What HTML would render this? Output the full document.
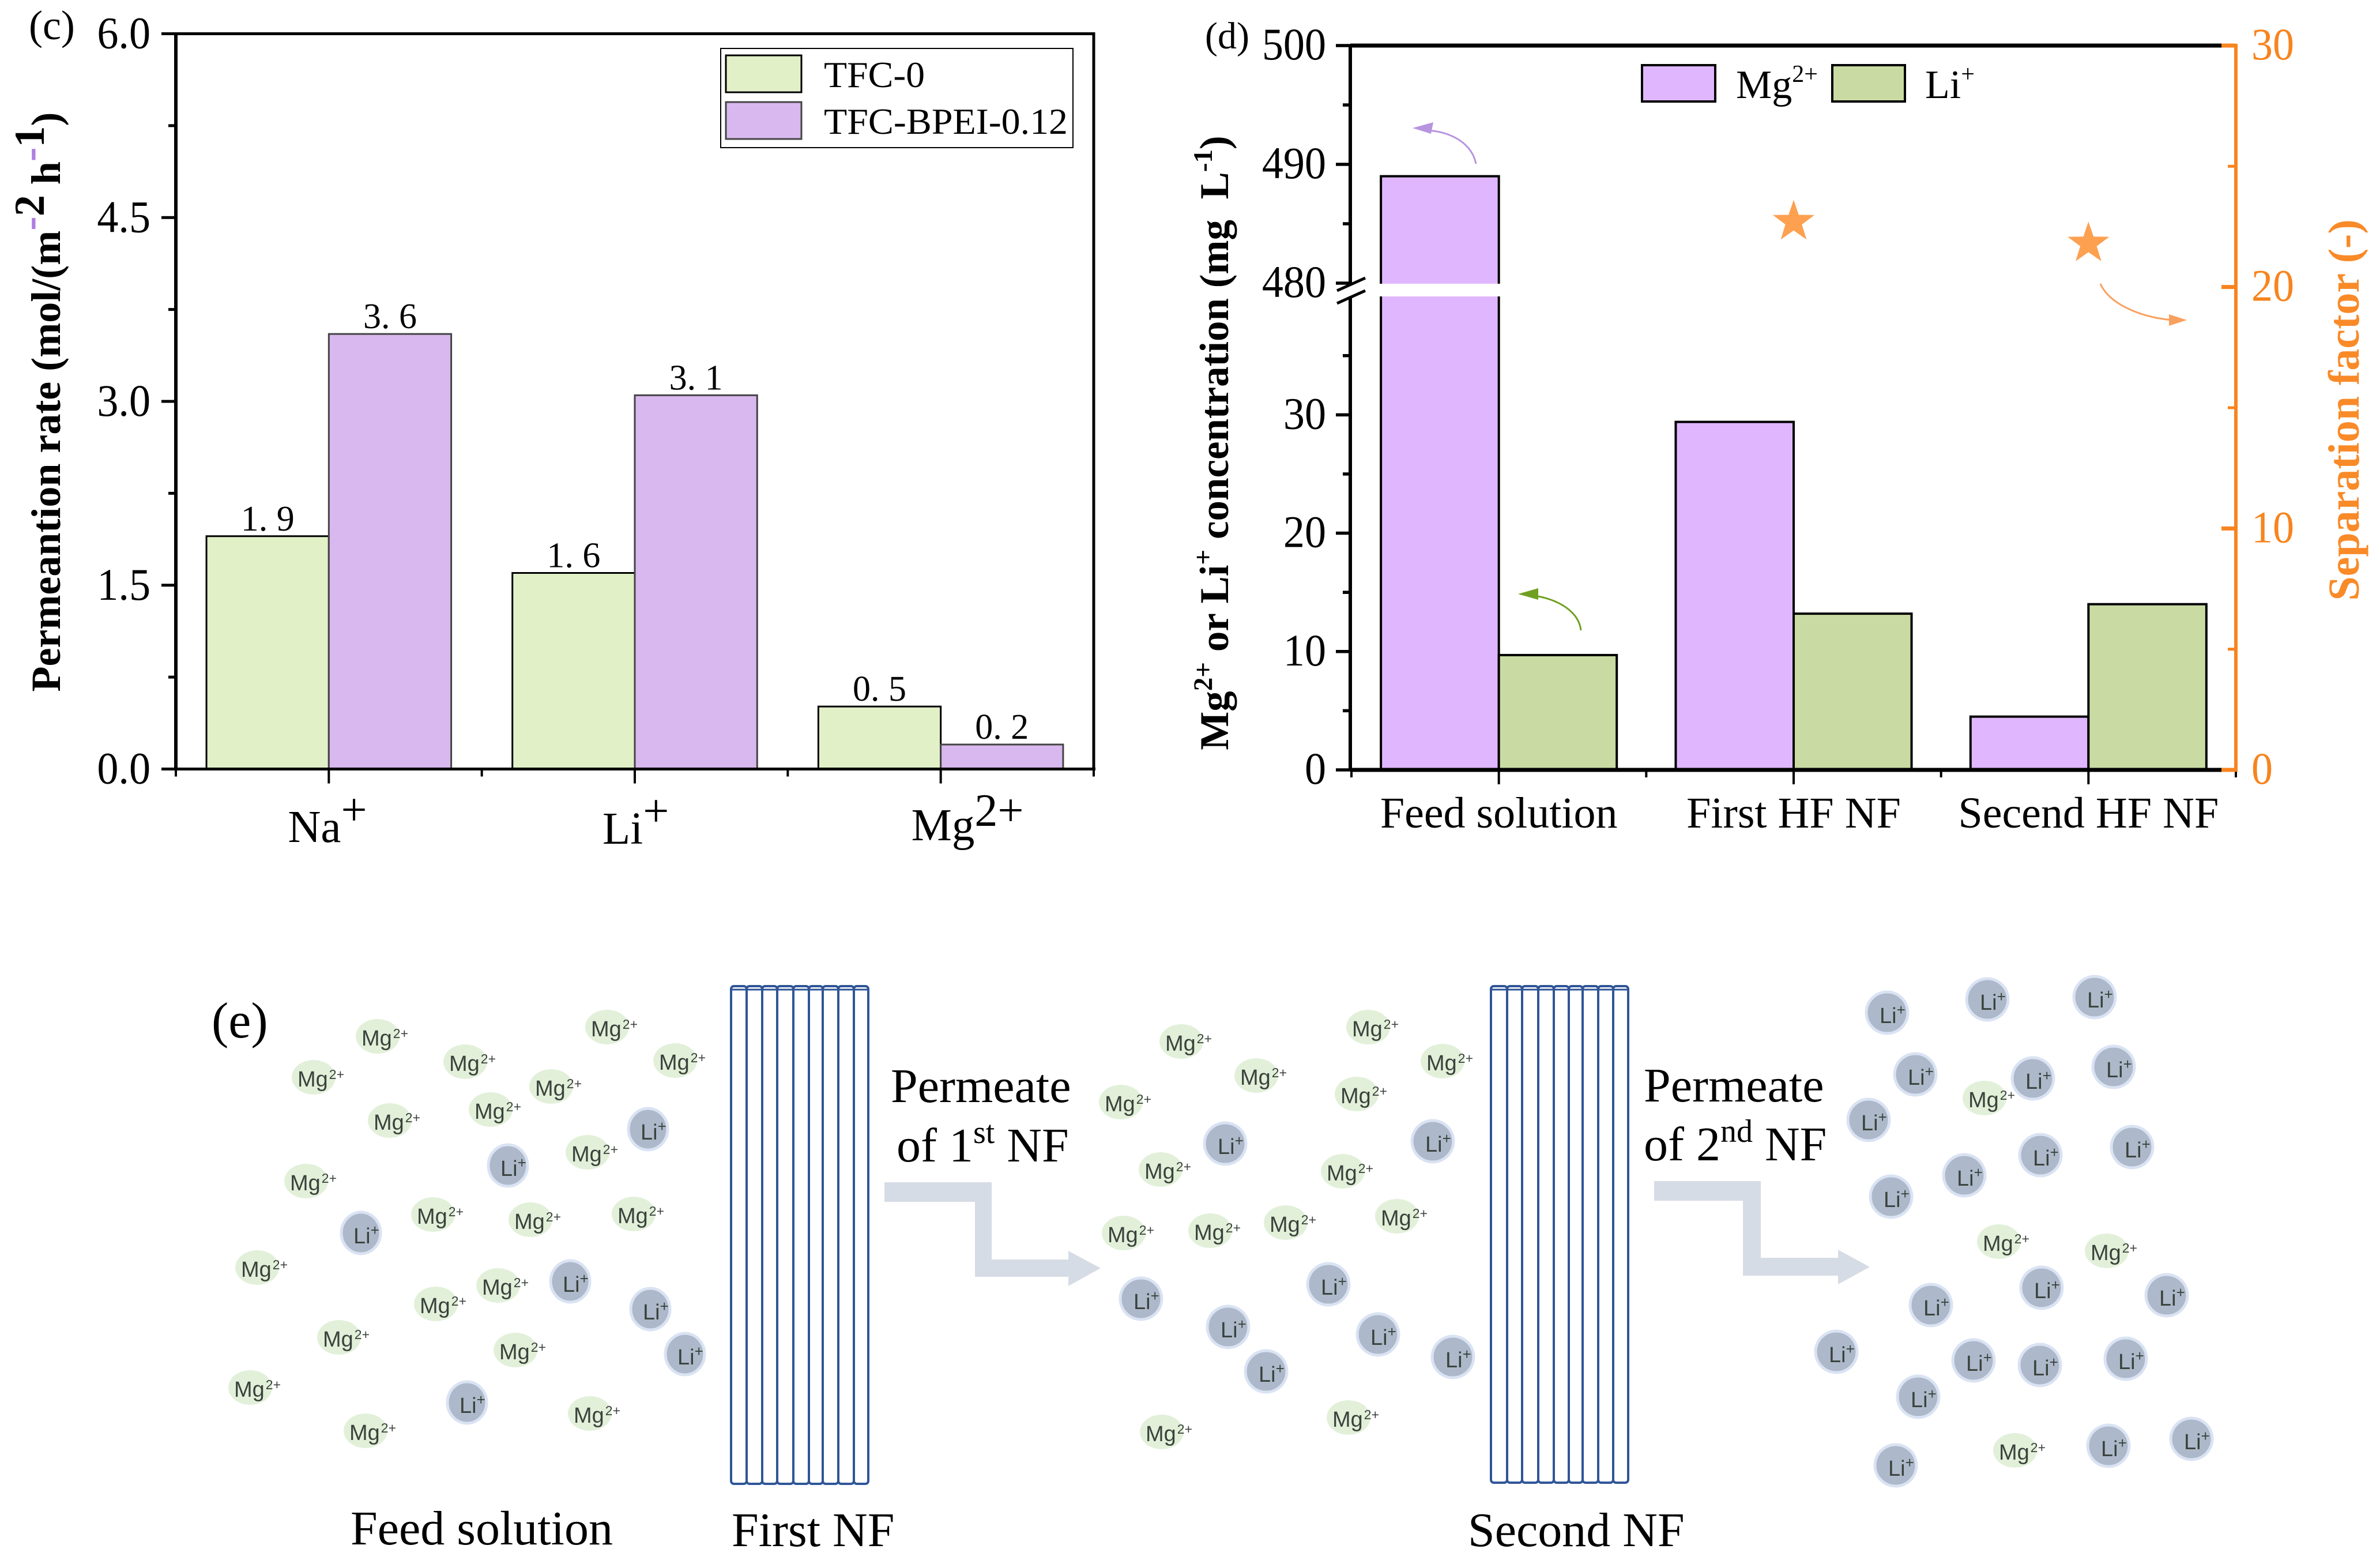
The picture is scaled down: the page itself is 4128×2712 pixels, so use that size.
<!DOCTYPE html>
<html lang="en">
<head>
<meta charset="utf-8">
<title>Permeation and separation charts with nanofiltration schematic</title>
<style>
html,body{margin:0;padding:0;background:#fff;}
svg{display:block;font-family:"Liberation Serif",serif;}
.ion text{font-family:"Liberation Sans",sans-serif;font-size:38px;fill:#3a423c;}
.mg{fill:#e2f0d9;}
.li{fill:#adb9ca;stroke:#dae3f3;stroke-width:5;}
.tube{fill:#fff;stroke:#2f5597;stroke-width:4;}
.cap{fill:none;stroke:#2f5597;stroke-width:3;}
.big{font-size:84px;fill:#000;}
</style>
</head>
<body>
<svg id="figure" xmlns="http://www.w3.org/2000/svg" width="4128" height="2712" viewBox="0 0 4128 2712">
<rect width="4128" height="2712" fill="#fff"/>

<g id="chart-c"></g>
<text x="50" y="68" font-size="72">(c)</text>
<text transform="translate(104 697) rotate(-90)" text-anchor="middle" font-size="72" font-weight="bold">Permeantion rate (mol/(m<tspan dy="-28" font-size="74"><tspan fill="#b07fe0">-</tspan>2</tspan><tspan dy="28"> h</tspan><tspan dy="-28" font-size="74"><tspan fill="#b07fe0">-</tspan>1</tspan><tspan dy="28">)</tspan></text>

<g id="chart-d"></g>
<text x="2090" y="84" font-size="66">(d)</text>
<text transform="translate(2130 768) rotate(-90)" text-anchor="middle" font-size="71" font-weight="bold">Mg<tspan dy="-28" font-size="47">2+</tspan><tspan dy="28"> or Li</tspan><tspan dy="-28" font-size="47">+</tspan><tspan dy="28"> concentration (mg&#160; L</tspan><tspan dy="-28" font-size="47">-1</tspan><tspan dy="28">)</tspan></text>
<text transform="translate(4091 711) rotate(-90)" text-anchor="middle" font-size="76" font-weight="bold" fill="#f98a28">Separation factor (-)</text>

<path d="M2560 284C2552 245 2510 226 2470 226" fill="none" stroke="#b794e0" stroke-width="3"/>
<polygon points="2450,222 2486,212 2482,232" fill="#b794e0"/>
<path d="M2742 1093C2738 1055 2690 1034 2650 1032" fill="none" stroke="#70a020" stroke-width="3"/>
<polygon points="2633,1030 2668,1020 2668,1040" fill="#70a020"/>
<path d="M3643 492C3660 530 3720 552 3770 555" fill="none" stroke="#f9a060" stroke-width="3"/>
<polygon points="3793,555 3762,545 3762,565" fill="#f9a060"/>

<g id="panel-e">
<text x="367" y="1799" font-size="88">(e)</text>

<g>
<rect class="tube" x="1268" y="1710" width="27" height="863" rx="5"/><rect class="tube" x="1295" y="1710" width="27" height="863" rx="5"/><rect class="tube" x="1322" y="1710" width="26" height="863" rx="5"/><rect class="tube" x="1348" y="1710" width="28" height="863" rx="5"/><rect class="tube" x="1376" y="1710" width="27" height="863" rx="5"/><rect class="tube" x="1403" y="1710" width="24" height="863" rx="5"/><rect class="tube" x="1427" y="1710" width="27" height="863" rx="5"/><rect class="tube" x="1454" y="1710" width="27" height="863" rx="5"/><rect class="tube" x="1481" y="1710" width="25" height="863" rx="5"/>
<path class="cap" d="M1268 1716H1506"/>
</g>
<g>
<rect class="tube" x="2586" y="1710" width="28" height="861" rx="5"/><rect class="tube" x="2614" y="1710" width="26" height="861" rx="5"/><rect class="tube" x="2640" y="1710" width="28" height="861" rx="5"/><rect class="tube" x="2668" y="1710" width="27" height="861" rx="5"/><rect class="tube" x="2695" y="1710" width="26" height="861" rx="5"/><rect class="tube" x="2721" y="1710" width="24" height="861" rx="5"/><rect class="tube" x="2745" y="1710" width="27" height="861" rx="5"/><rect class="tube" x="2772" y="1710" width="26" height="861" rx="5"/><rect class="tube" x="2798" y="1710" width="26" height="861" rx="5"/>
<path class="cap" d="M2586 1716H2824"/>
</g>

<polygon points="1534,2050 1720,2050 1720,2184 1853,2184 1853,2169 1909,2199 1853,2230 1853,2214 1691,2214 1691,2084 1534,2084" fill="#d6dce5"/>
<polygon points="2869,2048 3054,2048 3054,2181 3188,2181 3188,2167 3243,2197 3188,2227 3188,2212 3023,2212 3023,2082 2869,2082" fill="#d6dce5"/>

<text class="big" x="1545" y="1911">Permeate</text>
<text class="big" x="1555" y="2014">of 1<tspan dy="-32" font-size="56">st</tspan><tspan dy="32"> NF</tspan></text>
<text class="big" x="2851" y="1910">Permeate</text>
<text class="big" x="2851" y="2012">of 2<tspan dy="-32" font-size="56">nd</tspan><tspan dy="32"> NF</tspan></text>
<text class="big" x="608" y="2678">Feed solution</text>
<text class="big" x="1269" y="2681">First NF</text>
<text class="big" x="2546" y="2681">Second NF</text>

<g>
<g class="ion" transform="translate(655 1797)"><ellipse class="mg" rx="38" ry="30"/><text x="-28" y="16">Mg<tspan dx="2" dy="-13" font-size="23">2+</tspan></text></g>
<g class="ion" transform="translate(544 1868)"><ellipse class="mg" rx="38" ry="30"/><text x="-28" y="16">Mg<tspan dx="2" dy="-13" font-size="23">2+</tspan></text></g>
<g class="ion" transform="translate(807 1841)"><ellipse class="mg" rx="38" ry="30"/><text x="-28" y="16">Mg<tspan dx="2" dy="-13" font-size="23">2+</tspan></text></g>
<g class="ion" transform="translate(1053 1781)"><ellipse class="mg" rx="38" ry="30"/><text x="-28" y="16">Mg<tspan dx="2" dy="-13" font-size="23">2+</tspan></text></g>
<g class="ion" transform="translate(1171 1839)"><ellipse class="mg" rx="38" ry="30"/><text x="-28" y="16">Mg<tspan dx="2" dy="-13" font-size="23">2+</tspan></text></g>
<g class="ion" transform="translate(956 1884)"><ellipse class="mg" rx="38" ry="30"/><text x="-28" y="16">Mg<tspan dx="2" dy="-13" font-size="23">2+</tspan></text></g>
<g class="ion" transform="translate(851 1924)"><ellipse class="mg" rx="38" ry="30"/><text x="-28" y="16">Mg<tspan dx="2" dy="-13" font-size="23">2+</tspan></text></g>
<g class="ion" transform="translate(676 1943)"><ellipse class="mg" rx="38" ry="30"/><text x="-28" y="16">Mg<tspan dx="2" dy="-13" font-size="23">2+</tspan></text></g>
<g class="ion" transform="translate(1019 1998)"><ellipse class="mg" rx="38" ry="30"/><text x="-28" y="16">Mg<tspan dx="2" dy="-13" font-size="23">2+</tspan></text></g>
<g class="ion" transform="translate(531 2048)"><ellipse class="mg" rx="38" ry="30"/><text x="-28" y="16">Mg<tspan dx="2" dy="-13" font-size="23">2+</tspan></text></g>
<g class="ion" transform="translate(751 2106)"><ellipse class="mg" rx="38" ry="30"/><text x="-28" y="16">Mg<tspan dx="2" dy="-13" font-size="23">2+</tspan></text></g>
<g class="ion" transform="translate(920 2115)"><ellipse class="mg" rx="38" ry="30"/><text x="-28" y="16">Mg<tspan dx="2" dy="-13" font-size="23">2+</tspan></text></g>
<g class="ion" transform="translate(1099 2105)"><ellipse class="mg" rx="38" ry="30"/><text x="-28" y="16">Mg<tspan dx="2" dy="-13" font-size="23">2+</tspan></text></g>
<g class="ion" transform="translate(446 2198)"><ellipse class="mg" rx="38" ry="30"/><text x="-28" y="16">Mg<tspan dx="2" dy="-13" font-size="23">2+</tspan></text></g>
<g class="ion" transform="translate(864 2229)"><ellipse class="mg" rx="38" ry="30"/><text x="-28" y="16">Mg<tspan dx="2" dy="-13" font-size="23">2+</tspan></text></g>
<g class="ion" transform="translate(756 2261)"><ellipse class="mg" rx="38" ry="30"/><text x="-28" y="16">Mg<tspan dx="2" dy="-13" font-size="23">2+</tspan></text></g>
<g class="ion" transform="translate(588 2319)"><ellipse class="mg" rx="38" ry="30"/><text x="-28" y="16">Mg<tspan dx="2" dy="-13" font-size="23">2+</tspan></text></g>
<g class="ion" transform="translate(894 2341)"><ellipse class="mg" rx="38" ry="30"/><text x="-28" y="16">Mg<tspan dx="2" dy="-13" font-size="23">2+</tspan></text></g>
<g class="ion" transform="translate(434 2406)"><ellipse class="mg" rx="38" ry="30"/><text x="-28" y="16">Mg<tspan dx="2" dy="-13" font-size="23">2+</tspan></text></g>
<g class="ion" transform="translate(1023 2451)"><ellipse class="mg" rx="38" ry="30"/><text x="-28" y="16">Mg<tspan dx="2" dy="-13" font-size="23">2+</tspan></text></g>
<g class="ion" transform="translate(634 2481)"><ellipse class="mg" rx="38" ry="30"/><text x="-28" y="16">Mg<tspan dx="2" dy="-13" font-size="23">2+</tspan></text></g>
<g class="ion" transform="translate(1124 1958)"><ellipse class="li" rx="34" ry="36"/><text x="-13" y="18">Li<tspan dy="-14" font-size="26">+</tspan></text></g>
<g class="ion" transform="translate(881 2021)"><ellipse class="li" rx="34" ry="36"/><text x="-13" y="18">Li<tspan dy="-14" font-size="26">+</tspan></text></g>
<g class="ion" transform="translate(626 2138)"><ellipse class="li" rx="34" ry="36"/><text x="-13" y="18">Li<tspan dy="-14" font-size="26">+</tspan></text></g>
<g class="ion" transform="translate(989 2222)"><ellipse class="li" rx="34" ry="36"/><text x="-13" y="18">Li<tspan dy="-14" font-size="26">+</tspan></text></g>
<g class="ion" transform="translate(1128 2270)"><ellipse class="li" rx="34" ry="36"/><text x="-13" y="18">Li<tspan dy="-14" font-size="26">+</tspan></text></g>
<g class="ion" transform="translate(1188 2348)"><ellipse class="li" rx="34" ry="36"/><text x="-13" y="18">Li<tspan dy="-14" font-size="26">+</tspan></text></g>
<g class="ion" transform="translate(810 2432)"><ellipse class="li" rx="34" ry="36"/><text x="-13" y="18">Li<tspan dy="-14" font-size="26">+</tspan></text></g>
</g>

<g>
<g class="ion" transform="translate(2049 1806)"><ellipse class="mg" rx="38" ry="30"/><text x="-28" y="16">Mg<tspan dx="2" dy="-13" font-size="23">2+</tspan></text></g>
<g class="ion" transform="translate(2179 1865)"><ellipse class="mg" rx="38" ry="30"/><text x="-28" y="16">Mg<tspan dx="2" dy="-13" font-size="23">2+</tspan></text></g>
<g class="ion" transform="translate(2373 1781)"><ellipse class="mg" rx="38" ry="30"/><text x="-28" y="16">Mg<tspan dx="2" dy="-13" font-size="23">2+</tspan></text></g>
<g class="ion" transform="translate(2502 1840)"><ellipse class="mg" rx="38" ry="30"/><text x="-28" y="16">Mg<tspan dx="2" dy="-13" font-size="23">2+</tspan></text></g>
<g class="ion" transform="translate(2353 1897)"><ellipse class="mg" rx="38" ry="30"/><text x="-28" y="16">Mg<tspan dx="2" dy="-13" font-size="23">2+</tspan></text></g>
<g class="ion" transform="translate(1944 1911)"><ellipse class="mg" rx="38" ry="30"/><text x="-28" y="16">Mg<tspan dx="2" dy="-13" font-size="23">2+</tspan></text></g>
<g class="ion" transform="translate(2013 2028)"><ellipse class="mg" rx="38" ry="30"/><text x="-28" y="16">Mg<tspan dx="2" dy="-13" font-size="23">2+</tspan></text></g>
<g class="ion" transform="translate(2329 2031)"><ellipse class="mg" rx="38" ry="30"/><text x="-28" y="16">Mg<tspan dx="2" dy="-13" font-size="23">2+</tspan></text></g>
<g class="ion" transform="translate(1949 2138)"><ellipse class="mg" rx="38" ry="30"/><text x="-28" y="16">Mg<tspan dx="2" dy="-13" font-size="23">2+</tspan></text></g>
<g class="ion" transform="translate(2099 2134)"><ellipse class="mg" rx="38" ry="30"/><text x="-28" y="16">Mg<tspan dx="2" dy="-13" font-size="23">2+</tspan></text></g>
<g class="ion" transform="translate(2230 2120)"><ellipse class="mg" rx="38" ry="30"/><text x="-28" y="16">Mg<tspan dx="2" dy="-13" font-size="23">2+</tspan></text></g>
<g class="ion" transform="translate(2423 2109)"><ellipse class="mg" rx="38" ry="30"/><text x="-28" y="16">Mg<tspan dx="2" dy="-13" font-size="23">2+</tspan></text></g>
<g class="ion" transform="translate(2015 2483)"><ellipse class="mg" rx="38" ry="30"/><text x="-28" y="16">Mg<tspan dx="2" dy="-13" font-size="23">2+</tspan></text></g>
<g class="ion" transform="translate(2339 2458)"><ellipse class="mg" rx="38" ry="30"/><text x="-28" y="16">Mg<tspan dx="2" dy="-13" font-size="23">2+</tspan></text></g>
<g class="ion" transform="translate(2125 1983)"><ellipse class="li" rx="36" ry="36"/><text x="-13" y="18">Li<tspan dy="-14" font-size="26">+</tspan></text></g>
<g class="ion" transform="translate(2485 1979)"><ellipse class="li" rx="36" ry="36"/><text x="-13" y="18">Li<tspan dy="-14" font-size="26">+</tspan></text></g>
<g class="ion" transform="translate(1979 2252)"><ellipse class="li" rx="36" ry="36"/><text x="-13" y="18">Li<tspan dy="-14" font-size="26">+</tspan></text></g>
<g class="ion" transform="translate(2304 2227)"><ellipse class="li" rx="36" ry="36"/><text x="-13" y="18">Li<tspan dy="-14" font-size="26">+</tspan></text></g>
<g class="ion" transform="translate(2130 2301)"><ellipse class="li" rx="36" ry="36"/><text x="-13" y="18">Li<tspan dy="-14" font-size="26">+</tspan></text></g>
<g class="ion" transform="translate(2390 2314)"><ellipse class="li" rx="36" ry="36"/><text x="-13" y="18">Li<tspan dy="-14" font-size="26">+</tspan></text></g>
<g class="ion" transform="translate(2196 2378)"><ellipse class="li" rx="36" ry="36"/><text x="-13" y="18">Li<tspan dy="-14" font-size="26">+</tspan></text></g>
<g class="ion" transform="translate(2520 2353)"><ellipse class="li" rx="36" ry="36"/><text x="-13" y="18">Li<tspan dy="-14" font-size="26">+</tspan></text></g>
</g>

<g>
<g class="ion" transform="translate(3273 1756)"><ellipse class="li" rx="36" ry="36"/><text x="-13" y="18">Li<tspan dy="-14" font-size="26">+</tspan></text></g>
<g class="ion" transform="translate(3447 1733)"><ellipse class="li" rx="36" ry="36"/><text x="-13" y="18">Li<tspan dy="-14" font-size="26">+</tspan></text></g>
<g class="ion" transform="translate(3633 1729)"><ellipse class="li" rx="36" ry="36"/><text x="-13" y="18">Li<tspan dy="-14" font-size="26">+</tspan></text></g>
<g class="ion" transform="translate(3322 1863)"><ellipse class="li" rx="36" ry="36"/><text x="-13" y="18">Li<tspan dy="-14" font-size="26">+</tspan></text></g>
<g class="ion" transform="translate(3526 1870)"><ellipse class="li" rx="36" ry="36"/><text x="-13" y="18">Li<tspan dy="-14" font-size="26">+</tspan></text></g>
<g class="ion" transform="translate(3666 1850)"><ellipse class="li" rx="36" ry="36"/><text x="-13" y="18">Li<tspan dy="-14" font-size="26">+</tspan></text></g>
<g class="ion" transform="translate(3241 1942)"><ellipse class="li" rx="36" ry="36"/><text x="-13" y="18">Li<tspan dy="-14" font-size="26">+</tspan></text></g>
<g class="ion" transform="translate(3539 2003)"><ellipse class="li" rx="36" ry="36"/><text x="-13" y="18">Li<tspan dy="-14" font-size="26">+</tspan></text></g>
<g class="ion" transform="translate(3698 1989)"><ellipse class="li" rx="36" ry="36"/><text x="-13" y="18">Li<tspan dy="-14" font-size="26">+</tspan></text></g>
<g class="ion" transform="translate(3407 2038)"><ellipse class="li" rx="36" ry="36"/><text x="-13" y="18">Li<tspan dy="-14" font-size="26">+</tspan></text></g>
<g class="ion" transform="translate(3280 2075)"><ellipse class="li" rx="36" ry="36"/><text x="-13" y="18">Li<tspan dy="-14" font-size="26">+</tspan></text></g>
<g class="ion" transform="translate(3541 2233)"><ellipse class="li" rx="36" ry="36"/><text x="-13" y="18">Li<tspan dy="-14" font-size="26">+</tspan></text></g>
<g class="ion" transform="translate(3349 2263)"><ellipse class="li" rx="36" ry="36"/><text x="-13" y="18">Li<tspan dy="-14" font-size="26">+</tspan></text></g>
<g class="ion" transform="translate(3758 2246)"><ellipse class="li" rx="36" ry="36"/><text x="-13" y="18">Li<tspan dy="-14" font-size="26">+</tspan></text></g>
<g class="ion" transform="translate(3185 2344)"><ellipse class="li" rx="36" ry="36"/><text x="-13" y="18">Li<tspan dy="-14" font-size="26">+</tspan></text></g>
<g class="ion" transform="translate(3423 2359)"><ellipse class="li" rx="36" ry="36"/><text x="-13" y="18">Li<tspan dy="-14" font-size="26">+</tspan></text></g>
<g class="ion" transform="translate(3538 2367)"><ellipse class="li" rx="36" ry="36"/><text x="-13" y="18">Li<tspan dy="-14" font-size="26">+</tspan></text></g>
<g class="ion" transform="translate(3687 2356)"><ellipse class="li" rx="36" ry="36"/><text x="-13" y="18">Li<tspan dy="-14" font-size="26">+</tspan></text></g>
<g class="ion" transform="translate(3327 2422)"><ellipse class="li" rx="36" ry="36"/><text x="-13" y="18">Li<tspan dy="-14" font-size="26">+</tspan></text></g>
<g class="ion" transform="translate(3657 2507)"><ellipse class="li" rx="36" ry="36"/><text x="-13" y="18">Li<tspan dy="-14" font-size="26">+</tspan></text></g>
<g class="ion" transform="translate(3801 2495)"><ellipse class="li" rx="36" ry="36"/><text x="-13" y="18">Li<tspan dy="-14" font-size="26">+</tspan></text></g>
<g class="ion" transform="translate(3288 2541)"><ellipse class="li" rx="36" ry="36"/><text x="-13" y="18">Li<tspan dy="-14" font-size="26">+</tspan></text></g>
<g class="ion" transform="translate(3442 1904)"><ellipse class="mg" rx="38" ry="30"/><text x="-28" y="16">Mg<tspan dx="2" dy="-13" font-size="23">2+</tspan></text></g>
<g class="ion" transform="translate(3467 2153)"><ellipse class="mg" rx="38" ry="30"/><text x="-28" y="16">Mg<tspan dx="2" dy="-13" font-size="23">2+</tspan></text></g>
<g class="ion" transform="translate(3654 2169)"><ellipse class="mg" rx="38" ry="30"/><text x="-28" y="16">Mg<tspan dx="2" dy="-13" font-size="23">2+</tspan></text></g>
<g class="ion" transform="translate(3495 2515)"><ellipse class="mg" rx="38" ry="30"/><text x="-28" y="16">Mg<tspan dx="2" dy="-13" font-size="23">2+</tspan></text></g>
</g>
</g>
</svg>

<script>
/* ---------- chart (c) data ---------- */
const cCategories = ['Na', 'Li', 'Mg'];
const cCategorySups = ['+', '+', '2+'];
const cSeriesNames = ['TFC-0', 'TFC-BPEI-0.12'];
const cTfc0 = [1.9, 1.6, 0.51];
const cBpei = [3.55, 3.05, 0.2];
const cTfc0Labels = ['1. 9', '1. 6', '0. 5'];
const cBpeiLabels = ['3. 6', '3. 1', '0. 2'];
const cMajorTicks = [0, 1.5, 3, 4.5, 6];
const cTickLabels = ['0.0', '1.5', '3.0', '4.5', '6.0'];
const cMinorTicks = [0.75, 2.25, 3.75, 5.25];

/* ---------- chart (d) data ---------- */
const dCategories = ['Feed solution', 'First HF NF', 'Secend HF NF'];
const dMg = [489, 29.4, 4.5];
const dLi = [9.7, 13.2, 14];
const dSeparation = [null, 22.7, 21.8];
const dMajorTicks = [0, 10, 20, 30, 480, 490, 500];
const dMinorTicks = [5, 15, 25, 35, 485, 495];
const dRightMajor = [0, 10, 20, 30];
const dRightMinor = [5, 15, 25];

const NS = 'http://www.w3.org/2000/svg';
function mk(tag, attrs, parent, txt) {
  const e = document.createElementNS(NS, tag);
  for (const k in attrs) e.setAttribute(k, attrs[k]);
  if (txt !== undefined) e.textContent = txt;
  parent.appendChild(e);
  return e;
}
/* condensed width for numeric tick labels, which the figure squeezes slightly */
function tickWidth(label, size) {
  let w = 0;
  for (const ch of label) w += ch === '.' ? 0.25 : 0.5;
  return w * size * 0.95;
}

/* ---------- draw chart (c) ---------- */
(function () {
  const g = document.getElementById('chart-c');
  const L = 305, R = 1897, T = 58.5, B = 1333.5;
  const xC = c => L + (c + 0.5) * (R - L) / 3;
  const yC = v => B - v * (B - T) / 6;
  const barW = 0.4 * (R - L) / 3;
  const fills = ['#e2f0c8', '#d8b8ee'];
  const strokes = ['#000', '#444'];
  const series = [cTfc0, cBpei];
  const labels = [cTfc0Labels, cBpeiLabels];
  const labelDx = [-71, -56, -51];
  const labelBase = [1460, 1463, 1457];
  const supDy = [-29, -30, -25];

  series.forEach((vals, s) => {
    vals.forEach((v, i) => {
      const x = xC(i) + (s === 0 ? -barW : 0);
      const bar = mk('rect', { x: x, y: yC(v), width: barW, height: B - yC(v), fill: fills[s], stroke: strokes[s], 'stroke-width': 3 }, g);
      
      
      const t = mk('text', { x: x + barW / 2, y: yC(v) - 10, 'font-size': 62, 'text-anchor': 'middle' }, g, labels[s][i]);
      
      
    });
  });

  const frame = mk('path', { d: 'M' + L + ' ' + T + 'H' + R + 'V' + B, fill: 'none', stroke: '#000', 'stroke-width': 5 }, g);
  
  
  const left = mk('line', { x1: L, x2: L, y1: T, y2: B, stroke: '#000', 'stroke-width': 6 }, g);
  
  
  const base = mk('line', { x1: L - 3, x2: R + 3, y1: B, y2: B, stroke: '#000', 'stroke-width': 5 }, g);
  
  

  cMajorTicks.forEach((v, i) => {
    const tk = mk('line', { x1: L - 25, x2: L, y1: yC(v), y2: yC(v), stroke: '#000', 'stroke-width': 5 }, g);
    
    
    const t = mk('text', { x: 261, y: yC(v) + 25, 'font-size': 78, 'text-anchor': 'end', textLength: tickWidth(cTickLabels[i], 78), lengthAdjust: 'spacingAndGlyphs' }, g, cTickLabels[i]);
    
    
  });
  cMinorTicks.forEach(v => {
    const tk = mk('line', { x1: L - 13, x2: L, y1: yC(v), y2: yC(v), stroke: '#000', 'stroke-width': 5 }, g);
    
    
  });
  cCategories.forEach((c, i) => {
    const tk = mk('line', { x1: xC(i), x2: xC(i), y1: B, y2: B + 25, stroke: '#000', 'stroke-width': 4 }, g);
    
    
    const t = mk('text', { x: xC(i) + labelDx[i], y: labelBase[i], 'font-size': 79 }, g, c);
    
    
    const s = mk('tspan', { dy: supDy[i], 'font-size': 80 }, t, cCategorySups[i]);
    
    
  });
  [-0.5, 0.5, 1.5, 2.5].forEach(c => {
    const tk = mk('line', { x1: xC(c), x2: xC(c), y1: B, y2: B + 13, stroke: '#000', 'stroke-width': 4 }, g);
    
    
  });

  const box = mk('rect', { x: 1250, y: 84, width: 611, height: 172, fill: '#fff', stroke: '#000', 'stroke-width': 2 }, g);
  
  
  cSeriesNames.forEach((n, s) => {
    const top = s === 0 ? 96 : 177;
    const sw = mk('rect', { x: 1259, y: top, width: 131, height: 64, fill: fills[s], stroke: strokes[s], 'stroke-width': 3 }, g);
    
    
    const t = mk('text', { x: 1429, y: top + 55, 'font-size': 64, textLength: s === 0 ? 175 : 423, lengthAdjust: 'spacingAndGlyphs' }, g, n);
    
    
  });
})();

/* ---------- draw chart (d) ---------- */
(function () {
  const g = document.getElementById('chart-d');
  const L = 2344, R = 3878, T = 79, B = 1335;
  const unit = (B - T) / 61.2;
  const xC = c => L + (c + 0.5) * (R - L) / 3;
  const yD = v => v <= 40 ? B - v * unit : 79 + (500 - v) * (491 - 79) / 20;
  const yR = v => B - v * (B - T) / 30;
  const barW = 0.4 * (R - L) / 3;
  const orange = '#f7841f';
  const breakTop = 492, breakBottom = 514;

  dMg.forEach((v, i) => {
    const bar = mk('rect', { x: xC(i) - barW, y: yD(v), width: barW, height: B - yD(v), fill: '#e0b7ff', stroke: '#000', 'stroke-width': 4 }, g);
    
    
    if (v >= 480) {
      const gap = mk('rect', { x: xC(i) - barW - 4, y: breakTop, width: barW + 8, height: breakBottom - breakTop, fill: '#fff' }, g);
      
      
    }
  });
  dLi.forEach((v, i) => {
    const bar = mk('rect', { x: xC(i), y: yD(v), width: barW, height: B - yD(v), fill: '#c9dba3', stroke: '#000', 'stroke-width': 4 }, g);
    
    
  });

  const top = mk('line', { x1: L - 2, x2: R, y1: T, y2: T, stroke: '#000', 'stroke-width': 7 }, g);
  
  
  const base = mk('line', { x1: L - 2, x2: R, y1: B, y2: B, stroke: '#000', 'stroke-width': 7 }, g);
  
  
  const left = mk('path', { d: 'M' + (L - 2) + ' ' + T + 'V' + breakTop + 'M' + (L - 2) + ' ' + breakBottom + 'V' + B, stroke: '#000', 'stroke-width': 6, fill: 'none' }, g);
  
  
  [breakTop, breakBottom].forEach(y => {
    const s = mk('line', { x1: L - 25, y1: y + 12, x2: L + 24, y2: y - 10, stroke: '#000', 'stroke-width': 5 }, g);
    
    
  });

  dMajorTicks.forEach(v => {
    const tk = mk('line', { x1: L - 27, x2: L - 2, y1: yD(v), y2: yD(v), stroke: '#000', 'stroke-width': 5.5 }, g);
    
    
    const label = String(v);
    const t = mk('text', { x: 2300, y: yD(v) + 24, 'font-size': 78, 'text-anchor': 'end', textLength: tickWidth(label, 78), lengthAdjust: 'spacingAndGlyphs' }, g, label);
    
    
  });
  dMinorTicks.forEach(v => {
    const tk = mk('line', { x1: L - 15, x2: L - 2, y1: yD(v), y2: yD(v), stroke: '#000', 'stroke-width': 5.5 }, g);
    
    
  });

  dCategories.forEach((c, i) => {
    const tk = mk('line', { x1: xC(i), x2: xC(i), y1: B, y2: B + 25, stroke: '#000', 'stroke-width': 4 }, g);
    
    
    const t = mk('text', { x: xC(i), y: 1435, 'font-size': 76, 'text-anchor': 'middle' }, g, c);
    
    
  });
  [-0.5, 0.5, 1.5, 2.5].forEach(c => {
    const tk = mk('line', { x1: xC(c), x2: xC(c), y1: B, y2: B + 13, stroke: '#000', 'stroke-width': 4 }, g);
    
    
  });

  const rightAxis = mk('line', { x1: R, x2: R, y1: T - 3, y2: B + 3, stroke: orange, 'stroke-width': 6 }, g);
  
  
  dRightMajor.forEach(v => {
    const tk = mk('line', { x1: R - 25, x2: R, y1: yR(v), y2: yR(v), stroke: orange, 'stroke-width': 7 }, g);
    
    
    const label = String(v);
    const t = mk('text', { x: 3905, y: yR(v) + 24, 'font-size': 78, fill: orange, textLength: tickWidth(label, 78), lengthAdjust: 'spacingAndGlyphs' }, g, label);
    
    
  });
  dRightMinor.forEach(v => {
    const tk = mk('line', { x1: R - 14, x2: R, y1: yR(v), y2: yR(v), stroke: orange, 'stroke-width': 5 }, g);
    
    
  });

  dSeparation.forEach((v, i) => {
    if (v === null) return;
    const cx = xC(i), cy = yR(v);
    const pts = [];
    for (let k = 0; k < 10; k++) {
      const rad = k % 2 === 0 ? 38 : 15;
      const a = -Math.PI / 2 + k * Math.PI / 5;
      pts.push((cx + rad * Math.cos(a)).toFixed(1) + ',' + (cy + rad * Math.sin(a)).toFixed(1));
    }
    const star = mk('polygon', { points: pts.join(' '), fill: '#fda050' }, g);
    
    
  });

  const sw1 = mk('rect', { x: 2848, y: 113, width: 127, height: 63, fill: '#e0b7ff', stroke: '#000', 'stroke-width': 4 }, g);
  
  
  const t1 = mk('text', { x: 3011, y: 170, 'font-size': 70 }, g, 'Mg');
  
  
  const t1s = mk('tspan', { dy: -28, 'font-size': 42 }, t1, '2+');
  
  
  const sw2 = mk('rect', { x: 3178, y: 113, width: 126, height: 63, fill: '#c9dba3', stroke: '#000', 'stroke-width': 4 }, g);
  
  
  const t2 = mk('text', { x: 3339, y: 170, 'font-size': 70 }, g, 'Li');
  
  
  const t2s = mk('tspan', { dy: -28, 'font-size': 42 }, t2, '+');
  
  
})();
</script>
</body>
</html>
